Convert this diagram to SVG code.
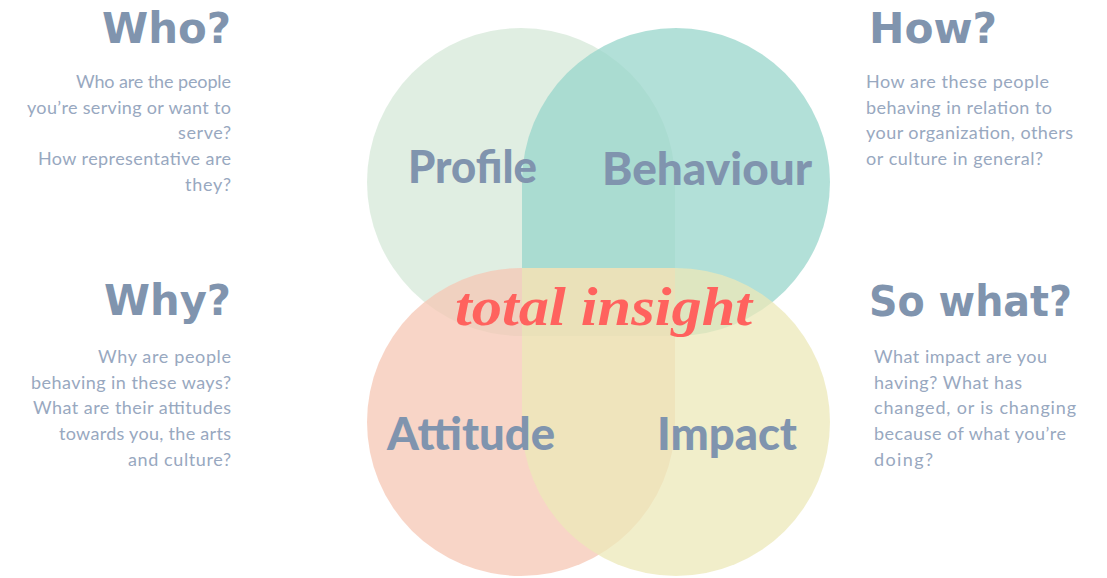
<svg xmlns="http://www.w3.org/2000/svg" width="1107" height="578" viewBox="0 0 1107 578">
<style>
.shape{fill-opacity:0.75;stroke:none}
.head{font-family:"DejaVu Sans","Liberation Sans",sans-serif;font-weight:bold;font-size:43px;fill:#8094AE}
.label{font-family:Lato,"Noto Sans","Liberation Sans",sans-serif;font-weight:900;font-size:45px;fill:#8094AE}
.body{font-family:Lato,"Noto Sans","Liberation Sans",sans-serif;font-weight:400;font-size:18px;fill:#98A8C0}
.r{text-anchor:end}
.insight{font-family:"Liberation Serif","DejaVu Serif",serif;font-style:italic;font-weight:bold;font-size:54px;fill:#FF625E}
</style>
<rect width="1107" height="578" fill="#FFFFFF"/>
<g id="venn">
<g id="profile"><path class="shape" fill="#D6E8D8" d="M367,182 A154,154 0 0 1 521,28 A154,154 0 0 1 675,182 L675,336 L521,336 A154,154 0 0 1 367,182 Z"/></g>
<g id="behaviour"><path class="shape" fill="#98D6CB" d="M522,182 A154,154 0 0 1 676,28 A154,154 0 0 1 830,182 A154,154 0 0 1 676,336 L522,336 Z"/></g>
<g id="attitude"><path class="shape" fill="#F6C7B4" d="M367,422 A154,154 0 0 1 521,268 L675,268 L675,422 A154,154 0 0 1 521,576 A154,154 0 0 1 367,422 Z"/></g>
<g id="impact"><path class="shape" fill="#ECE8B8" d="M522,268 L676,268 A154,154 0 0 1 830,422 A154,154 0 0 1 676,576 A154,154 0 0 1 522,422 Z"/></g>
</g>
<g id="labels">
<text class="label" x="408" y="183" textLength="129" lengthAdjust="spacingAndGlyphs">Profile</text>
<text class="label" x="602" y="185" textLength="210" lengthAdjust="spacingAndGlyphs">Behaviour</text>
<text class="label" x="387" y="450" textLength="168" lengthAdjust="spacingAndGlyphs">Attitude</text>
<text class="label" x="657" y="450" textLength="140" lengthAdjust="spacingAndGlyphs">Impact</text>
</g>
<g id="total-insight">
<text class="insight" x="455" y="325" textLength="297" lengthAdjust="spacingAndGlyphs">total insight</text>
</g>
<g id="who">
<text class="head" x="102" y="43" textLength="129" lengthAdjust="spacingAndGlyphs">Who?</text>
<text class="body" x="76" y="88" textLength="155">Who are the people</text>
<text class="body" x="27" y="113.7" textLength="204">you’re serving or want to</text>
<text class="body" x="178" y="139.4" textLength="53">serve?</text>
<text class="body" x="38" y="165.1" textLength="193">How representative are</text>
<text class="body" x="185" y="190.8" textLength="46">they?</text>
</g>
<g id="how">
<text class="head" x="869" y="43" textLength="128" lengthAdjust="spacingAndGlyphs">How?</text>
<text class="body" x="866" y="88" textLength="183">How are these people</text>
<text class="body" x="866" y="113.7" textLength="186">behaving in relation to</text>
<text class="body" x="866" y="139.4" textLength="207">your organization, others</text>
<text class="body" x="866" y="165.1" textLength="177">or culture in general?</text>
</g>
<g id="why">
<text class="head" x="104" y="315" textLength="127" lengthAdjust="spacingAndGlyphs">Why?</text>
<text class="body" x="98" y="363" textLength="133">Why are people</text>
<text class="body" x="31" y="388.7" textLength="200">behaving in these ways?</text>
<text class="body" x="33" y="414.4" textLength="198">What are their attitudes</text>
<text class="body" x="59" y="440.1" textLength="172">towards you, the arts</text>
<text class="body" x="128" y="465.8" textLength="103">and culture?</text>
</g>
<g id="so-what">
<text class="head" x="869" y="316" textLength="203" lengthAdjust="spacingAndGlyphs">So what?</text>
<text class="body" x="874" y="363" textLength="173">What impact are you</text>
<text class="body" x="874" y="388.7" textLength="148">having? What has</text>
<text class="body" x="874" y="414.4" textLength="202">changed, or is changing</text>
<text class="body" x="874" y="440.1" textLength="192">because of what you’re</text>
<text class="body" x="874" y="465.8" textLength="59">doing?</text>
</g>
</svg>
